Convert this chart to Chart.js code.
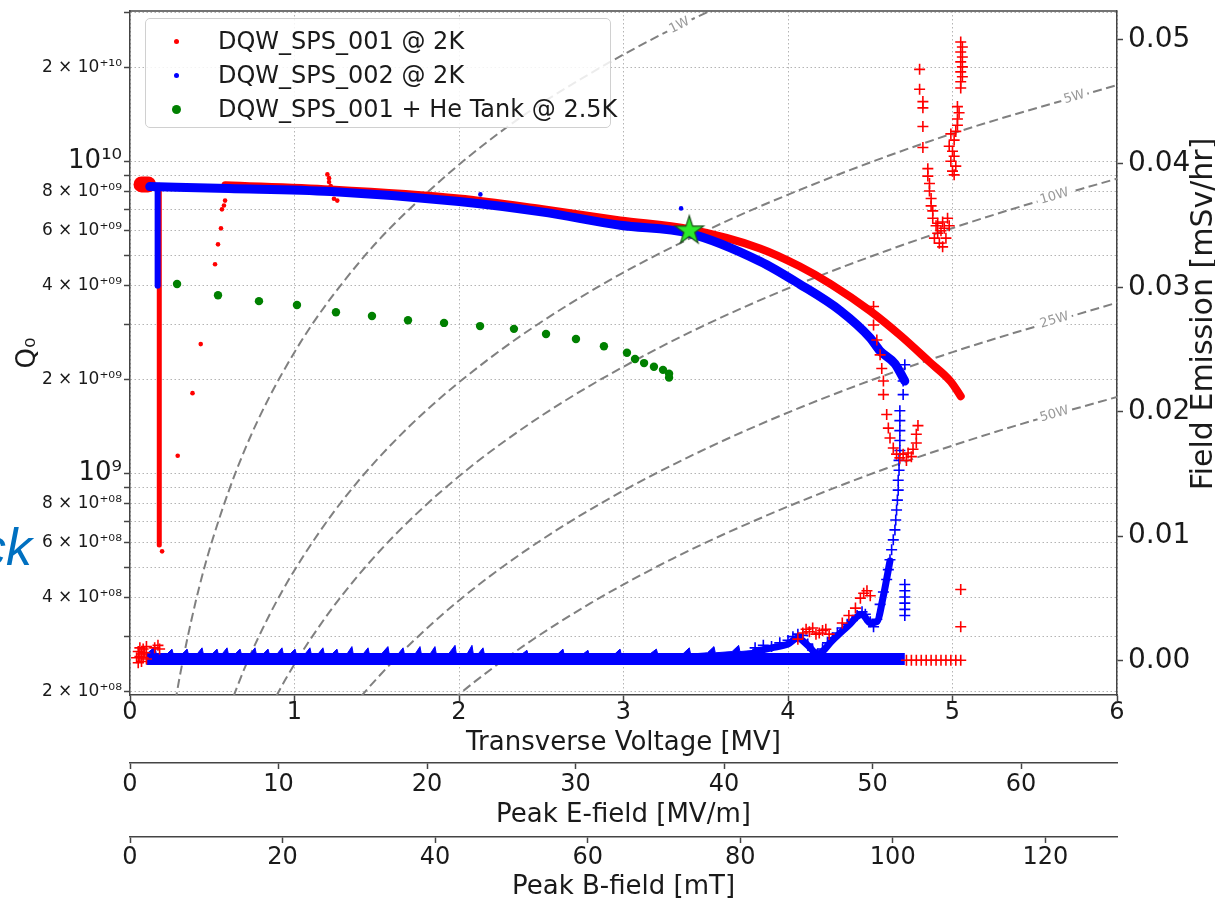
<!DOCTYPE html>
<html>
<head>
<meta charset="utf-8">
<script src="https://cdn.jsdelivr.net/npm/chart.js@4.4.1/dist/chart.umd.min.js"></script>
<style>
  html, body { margin: 0; padding: 0; background: #fff; }
  #wrap { position: relative; width: 1215px; height: 898px; overflow: hidden; font-family: "DejaVu Sans", sans-serif; }
  #chart { position: absolute; left: 0; top: 0; }
  .cut { position: absolute; left: -20px; top: 521px; font: italic 52px/52px "Liberation Sans", Arial, sans-serif; color: #0070c0; }
  .legend { position: absolute; left: 145px; top: 18px; width: 464px; height: 108px; border: 1px solid #d0d0d0;
            border-radius: 5px; background: rgba(255,255,255,0.85); }
  .legend .row { position: absolute; left: 0; width: 100%; height: 34px; }
  .legend .mk { position: absolute; border-radius: 50%; }
  .legend .txt { position: absolute; left: 72px; top: 0; line-height: 34px; font-size: 24px; color: #1a1a1a; white-space: nowrap; }
</style>
</head>
<body>
<div id="wrap">
  <canvas id="chart" width="1215" height="898"></canvas>
  <div class="cut">ck</div>
  <div class="legend" id="legend"></div>
</div>
<script>
/* ── Tick values ──────────────────────────────────────────────────── */
const xTicks  = [0, 1, 2, 3, 4, 5, 6];
const eTicks  = [0, 10, 20, 30, 40, 50, 60];
const bTicks  = [0, 20, 40, 60, 80, 100, 120];
const feTicks = [0, 0.01, 0.02, 0.03, 0.04, 0.05];
const qTicks  = [2e8, 3e8, 4e8, 5e8, 6e8, 7e8, 8e8, 9e8,
                 1e9, 2e9, 3e9, 4e9, 5e9, 6e9, 7e9, 8e9, 9e9,
                 1e10, 2e10, 3e10];

/* ── Legend ───────────────────────────────────────────────────────── */
const legendLabels = ["DQW_SPS_001 @ 2K", "DQW_SPS_002 @ 2K", "DQW_SPS_001 + He Tank @ 2.5K"];

/* ── Q0 vs transverse voltage [MV] ────────────────────────────────── */
const redBand = [[0.58, 8.40e9], [1.22, 8.14e9], [2.00, 7.62e9], [2.50, 7.05e9], [2.98, 6.48e9],
                 [3.40, 6.07e9], [3.83, 5.27e9], [4.07, 4.62e9], [4.26, 4.05e9], [4.50, 3.32e9],
                 [4.68, 2.78e9], [4.86, 2.28e9], [4.99, 1.97e9], [5.05, 1.77e9]];
const redBlob = [[0.07, 8.45e9], [0.11, 8.45e9]];
const redDrop = [[0.178, 8.40e9], [0.178, 5.90e8]];
const redDots = [[0.195, 5.63e8], [0.29, 1.14e9], [0.38, 1.81e9], [0.43, 2.60e9], [0.517, 4.69e9],
                 [0.535, 5.43e9], [0.553, 6.11e9], [0.559, 7.03e9], [0.571, 7.23e9], [0.578, 7.50e9],
                 [1.20, 9.10e9], [1.21, 8.85e9], [1.21, 8.60e9], [1.22, 8.35e9], [1.24, 7.60e9], [1.26, 7.50e9]];

const blueBand = [[0.12, 8.32e9], [0.60, 8.20e9], [1.22, 8.02e9], [2.00, 7.45e9], [2.50, 6.90e9],
                  [2.98, 6.25e9], [3.40, 5.89e9], [3.83, 4.79e9], [4.07, 4.05e9], [4.32, 3.32e9],
                  [4.50, 2.72e9], [4.56, 2.47e9], [4.65, 2.25e9], [4.71, 1.98e9]];
const blueDrop = [[0.168, 8.30e9], [0.168, 4.00e9]];
const blueDots = [[2.13, 7.85e9], [3.35, 7.08e9]];

const greenDots = [[0.286, 4.05e9], [0.535, 3.73e9], [0.784, 3.57e9], [1.015, 3.47e9], [1.252, 3.29e9],
                   [1.471, 3.20e9], [1.690, 3.10e9], [1.909, 3.04e9], [2.128, 2.97e9], [2.334, 2.91e9],
                   [2.529, 2.80e9], [2.711, 2.70e9], [2.881, 2.56e9], [3.021, 2.44e9], [3.070, 2.33e9],
                   [3.125, 2.26e9], [3.185, 2.20e9], [3.240, 2.15e9], [3.277, 2.09e9], [3.277, 2.03e9]];
const starPoint = [[3.40, 6.07e9]];

/* ── Constant power curves (Q0) ───────────────────────────────────── */
const curve1W  = [[0.25, 1.53e8], [0.30, 2.20e8], [0.40, 3.90e8], [0.50, 6.10e8], [0.70, 1.20e9], [1.00, 2.45e9],
                  [1.40, 4.80e9], [1.80, 7.90e9], [2.30, 1.30e10], [2.80, 1.92e10], [3.30, 2.67e10], [3.70, 3.35e10]];
const curve5W  = [[0.60, 1.76e8], [0.70, 2.40e8], [0.85, 3.54e8], [1.00, 4.90e8], [1.30, 8.30e8], [1.70, 1.42e9],
                  [2.20, 2.37e9], [2.80, 3.84e9], [3.50, 6.00e9], [4.20, 8.64e9], [5.00, 1.23e10], [6.00, 1.76e10]];
const curve10W = [[0.85, 1.77e8], [0.95, 2.21e8], [1.10, 2.96e8], [1.30, 4.14e8], [1.60, 6.27e8], [2.00, 9.80e8],
                  [2.50, 1.53e9], [3.10, 2.35e9], [3.80, 3.54e9], [4.60, 5.18e9], [5.30, 6.88e9], [6.00, 8.82e9]];
const curve25W = [[1.35, 1.79e8], [1.50, 2.20e8], [1.70, 2.83e8], [2.00, 3.92e8], [2.40, 5.64e8], [2.90, 8.24e8],
                  [3.50, 1.20e9], [4.20, 1.73e9], [5.00, 2.45e9], [6.00, 3.53e9]];
const curve50W = [[1.90, 1.77e8], [2.10, 2.16e8], [2.40, 2.82e8], [2.80, 3.84e8], [3.30, 5.34e8], [3.90, 7.45e8],
                  [4.60, 1.04e9], [5.30, 1.38e9], [6.00, 1.76e9]];
const curveNames = ["1W", "5W", "10W", "25W", "50W"];
const curveLabelAt = [[3.34, 2.73e10], [5.74, 1.61e10], [5.62, 7.74e9], [5.62, 3.10e9], [5.62, 1.55e9]];

/* ── Field emission [mSv/hr] vs transverse voltage ────────────────── */
const blueBase = [[0.10, 0.0001], [4.71, 0.0001]];
const blueSpikes = [
  [0.10, 0.0005], [0.152, 0.0011], [0.160, 0.0005], [0.225, 0.0005], [0.255, 0.0009], [0.263, 0.0005],
  [0.317, 0.0005], [0.347, 0.0009], [0.355, 0.0005], [0.408, 0.0005], [0.438, 0.0010], [0.446, 0.0005],
  [0.499, 0.0005], [0.529, 0.0009], [0.537, 0.0005], [0.560, 0.0005], [0.590, 0.0010], [0.598, 0.0005],
  [0.639, 0.0005], [0.669, 0.0009], [0.677, 0.0005], [0.730, 0.0005], [0.760, 0.0010], [0.768, 0.0005],
  [0.809, 0.0005], [0.839, 0.0009], [0.847, 0.0005], [0.894, 0.0005], [0.924, 0.0010], [0.932, 0.0005],
  [0.973, 0.0005], [1.003, 0.0009], [1.011, 0.0005], [1.064, 0.0005], [1.094, 0.0010], [1.102, 0.0005],
  [1.143, 0.0005], [1.173, 0.0010], [1.181, 0.0005], [1.228, 0.0005], [1.258, 0.0009], [1.266, 0.0005],
  [1.319, 0.0005], [1.349, 0.0011], [1.357, 0.0005], [1.417, 0.0005], [1.447, 0.0010], [1.455, 0.0005],
  [1.528, 0.0005], [1.568, 0.0011], [1.576, 0.0005], [1.630, 0.0005], [1.660, 0.0010], [1.668, 0.0005],
  [1.733, 0.0005], [1.763, 0.0011], [1.771, 0.0005], [1.824, 0.0005], [1.854, 0.0011], [1.862, 0.0005],
  [1.936, 0.0005], [1.976, 0.0012], [1.984, 0.0005], [2.049, 0.0005], [2.079, 0.0012], [2.087, 0.0005],
  [2.116, 0.0005], [2.146, 0.0010], [2.154, 0.0005], [2.373, 0.0004], [2.413, 0.0008], [2.421, 0.0004],
  [2.592, 0.0004], [2.632, 0.0009], [2.640, 0.0004], [2.744, 0.0004], [2.784, 0.0008], [2.792, 0.0004],
  [2.939, 0.0004], [2.979, 0.0009], [2.987, 0.0004], [3.160, 0.0005], [3.200, 0.0009], [3.208, 0.0005],
  [3.360, 0.0005], [3.400, 0.0010], [3.408, 0.0005], [3.510, 0.0006], [3.550, 0.0011], [3.558, 0.0006],
  [3.660, 0.0007], [3.700, 0.0012], [3.708, 0.0007], [3.800, 0.0008]];
const blueRise = [[3.80, 0.0007], [3.90, 0.0010], [4.00, 0.0013], [4.06, 0.0018], [4.12, 0.0012], [4.18, 0.0005],
                  [4.27, 0.0016], [4.36, 0.0027], [4.45, 0.0037], [4.50, 0.0030], [4.54, 0.0031], [4.58, 0.0052],
                  [4.62, 0.0080]];
const blueFE = [[3.80, 0.0010], [3.85, 0.0012], [3.90, 0.0011], [3.95, 0.0014], [4.00, 0.0016], [4.03, 0.0019],
                [4.06, 0.0021], [4.09, 0.0020], [4.12, 0.0013], [4.15, 0.0008], [4.18, 0.0005], [4.21, 0.0009],
                [4.24, 0.0014], [4.27, 0.0018], [4.30, 0.0022], [4.33, 0.0026], [4.36, 0.0029], [4.39, 0.0032],
                [4.42, 0.0036], [4.45, 0.0039], [4.47, 0.0037], [4.50, 0.0031], [4.52, 0.0027], [4.54, 0.0033],
                [4.56, 0.0045], [4.58, 0.0055], [4.60, 0.0065], [4.61, 0.0073], [4.62, 0.0081], [4.63, 0.0089],
                [4.64, 0.0097], [4.65, 0.0105], [4.655, 0.0113], [4.66, 0.0121], [4.665, 0.0129], [4.67, 0.0137],
                [4.67, 0.0145], [4.675, 0.0153], [4.675, 0.0161], [4.68, 0.0169], [4.68, 0.0177], [4.68, 0.0185],
                [4.68, 0.0193], [4.68, 0.0201], [4.70, 0.0214], [4.70, 0.0225], [4.71, 0.0238],
                [4.71, 0.0061], [4.71, 0.0056], [4.71, 0.0051], [4.71, 0.0046], [4.71, 0.0041], [4.71, 0.0036]];
const redFE = [[0.04, 0.0002], [0.05, 0.0007], [0.05, -0.0002], [0.06, 0.0010], [0.06, 0.0003], [0.07, 0.0005],
               [0.07, -0.0001], [0.08, 0.0009], [0.08, 0.0002], [0.09, 0.0006], [0.10, 0.0011], [0.10, 0.0001],
               [0.15, 0.0010], [0.17, 0.0012], [0.18, 0.0009],
               [4.06, 0.0017], [4.09, 0.0022], [4.11, 0.0025], [4.13, 0.0023], [4.15, 0.0026], [4.17, 0.0021],
               [4.19, 0.0022], [4.21, 0.0024], [4.23, 0.0025], [4.25, 0.0021],
               [4.33, 0.0030], [4.37, 0.0036], [4.41, 0.0042], [4.44, 0.0050], [4.46, 0.0054], [4.48, 0.0056], [4.50, 0.0052],
               [4.52, 0.0285], [4.52, 0.0270], [4.54, 0.0258], [4.56, 0.0246], [4.57, 0.0235], [4.58, 0.0225],
               [4.58, 0.0214], [4.60, 0.0198], [4.61, 0.0187], [4.62, 0.0179], [4.64, 0.0171], [4.66, 0.0166],
               [4.68, 0.0163], [4.70, 0.0166], [4.72, 0.0161], [4.73, 0.0167], [4.75, 0.0164], [4.76, 0.0170],
               [4.78, 0.0175], [4.78, 0.0182], [4.79, 0.0189],
               [4.80, 0.0476], [4.80, 0.0460], [4.82, 0.0450], [4.82, 0.0445], [4.82, 0.0430], [4.82, 0.0413],
               [4.85, 0.0396], [4.85, 0.0390], [4.86, 0.0384], [4.86, 0.0378], [4.87, 0.0372], [4.87, 0.0366],
               [4.88, 0.0362], [4.88, 0.0356], [4.90, 0.0350], [4.91, 0.0344], [4.89, 0.0340], [4.92, 0.0336],
               [4.93, 0.0346], [4.94, 0.0353], [4.95, 0.0348], [4.96, 0.0340], [4.94, 0.0333], [4.97, 0.0356],
               [4.98, 0.0350], [4.91, 0.0352],
               [5.05, 0.0498], [5.06, 0.0494], [5.05, 0.0490], [5.06, 0.0486], [5.05, 0.0482], [5.06, 0.0478],
               [5.05, 0.0474], [5.06, 0.0470], [5.05, 0.0466], [5.05, 0.0461],
               [5.03, 0.0446], [5.04, 0.0441], [5.03, 0.0436], [5.03, 0.0431], [5.02, 0.0426],
               [4.99, 0.0424], [5.01, 0.0419], [4.98, 0.0414], [5.00, 0.0410], [5.01, 0.0406], [4.99, 0.0402],
               [5.02, 0.0398], [5.00, 0.0394], [5.01, 0.0391],
               [4.72, 0], [4.75, 0], [4.78, 0], [4.81, 0], [4.84, 0], [4.87, 0], [4.90, 0], [4.93, 0],
               [4.96, 0], [4.99, 0], [5.02, 0], [5.05, 0], [5.05, 0.0057], [5.05, 0.0027]];


/* ── Helpers ──────────────────────────────────────────────────────── */
const RED = "#ff0000", BLUE = "#0000ff", GREEN = "#008000", INK = "#1a1a1a", SPINE = "#444";
const xy = (pts) => pts.map(([x, y]) => ({ x, y }));
const SUP = { "0": "⁰", "1": "¹", "2": "²", "3": "³", "4": "⁴", "5": "⁵", "6": "⁶", "7": "⁷", "8": "⁸", "9": "⁹" };
const sup = (s) => String(s).split("").map((c) => SUP[c] || c).join("");

function qExp(v) { return Math.floor(Math.log10(v) + 1e-9); }
function qMant(v) { return Math.round(v / Math.pow(10, qExp(v))); }
function fmtQ(v) {
  const e = qExp(v), m = qMant(v);
  if (m === 1) return "10" + sup(e);
  if (m % 2 === 0) return m + " × 10⁺" + sup(String(e).padStart(2, "0"));
  return "";
}

function band(pts, color, width, order, axis) {
  return { data: xy(pts), yAxisID: axis || "y", showLine: true, borderColor: color, borderWidth: width,
           pointRadius: 0, cubicInterpolationMode: "monotone", borderCapStyle: "round",
           borderJoinStyle: "round", order };
}
function dots(pts, color, r, order, style, axis) {
  return { data: xy(pts), yAxisID: axis || "y", showLine: false, pointStyle: style || "circle",
           pointRadius: r, backgroundColor: color, borderColor: color,
           pointBorderWidth: style === "cross" ? 1.6 : 0, order };
}
function powerCurve(pts) {
  return { data: xy(pts), showLine: true, borderColor: "#808080", borderWidth: 2, borderDash: [9, 4.5],
           pointRadius: 0, cubicInterpolationMode: "monotone", clip: 0, order: 30 };
}

function starImage(r) {
  const c = document.createElement("canvas");
  const s = Math.ceil(r * 2 + 4);
  c.width = c.height = s;
  const g = c.getContext("2d");
  g.beginPath();
  for (let i = 0; i < 10; i++) {
    const rad = i % 2 ? r * 0.382 : r;
    const a = -Math.PI / 2 + (i * Math.PI) / 5;
    g.lineTo(s / 2 + rad * Math.cos(a), s / 2 + 1.5 + rad * Math.sin(a));
  }
  g.closePath();
  g.fillStyle = "#2bea2b";
  g.fill();
  g.strokeStyle = "#1d4d1d";
  g.lineWidth = 1.2;
  g.stroke();
  return c;
}

/* ── Legend (HTML overlay) ────────────────────────────────────────── */
const legendColors = [RED, BLUE, GREEN];
const legendSizes = [2.5, 2.5, 4.5];
legendLabels.forEach((label, i) => {
  const row = document.createElement("div");
  row.className = "row";
  row.style.top = (5 + i * 34) + "px";
  const r = legendSizes[i];
  row.innerHTML = `<span class="mk" style="left:${30 - r}px;top:${17 - r}px;width:${2 * r}px;height:${2 * r}px;background:${legendColors[i]}"></span><span class="txt">${label}</span>`;
  document.getElementById("legend").appendChild(row);
});

/* ── Extra drawing: top spine, curve labels, right axis title ─────── */
const curveLabelAngle = [26, 16, 16.5, 16.5, 16.5];
const extras = {
  id: "extras",
  afterDatasetsDraw(chart) {
    const { ctx, chartArea: a, scales } = chart;
    ctx.save();
    ctx.beginPath();
    ctx.rect(a.left, a.top, a.width, a.height);
    ctx.clip();
    ctx.font = "13px 'DejaVu Sans'";
    ctx.textAlign = "center";
    ctx.textBaseline = "middle";
    curveNames.forEach((name, i) => {
      const px = scales.x.getPixelForValue(curveLabelAt[i][0]);
      const py = scales.y.getPixelForValue(curveLabelAt[i][1]);
      ctx.save();
      ctx.translate(px, py);
      ctx.rotate((-curveLabelAngle[i] * Math.PI) / 180);
      const w = ctx.measureText(name).width + 6;
      ctx.fillStyle = "#fff";
      ctx.fillRect(-w / 2, -7, w, 14);
      ctx.fillStyle = "#999";
      ctx.fillText(name, 0, 0);
      ctx.restore();
    });
    ctx.restore();

    ctx.save();
    ctx.strokeStyle = SPINE;
    ctx.lineWidth = 1.5;
    ctx.beginPath();
    ctx.moveTo(a.left, a.top);
    ctx.lineTo(a.right, a.top);
    ctx.stroke();
    ctx.restore();
  },
  afterDraw(chart) {
    const { ctx } = chart;
    ctx.save();
    ctx.translate(1204, 314);
    ctx.rotate(-Math.PI / 2);
    ctx.font = "30px 'DejaVu Sans'";
    ctx.fillStyle = INK;
    ctx.textAlign = "center";
    ctx.textBaseline = "middle";
    ctx.fillText("Field Emission [mSv/hr]", 0, 0);
    ctx.restore();
  },
};

/* ── Scales ───────────────────────────────────────────────────────── */
const gridDots = { color: "#b4b4b4", lineWidth: 1, tickLength: 6, tickColor: SPINE, tickWidth: 1.5 };
const fixTicks = (list) => (s) => { s.ticks = list.map((v) => ({ value: v })); };
const fixHeight = (h) => (s) => { s.height = h; s.paddingLeft = 0; s.paddingRight = 0; };
const fixWidth = (w) => (s) => { s.width = w; s.paddingTop = 0; s.paddingBottom = 0; };

function bottomAxis(min, max, ticks, title, h, weight, padTick, padTitle, grid) {
  return {
    type: "linear", position: "bottom", min, max, weight,
    afterBuildTicks: fixTicks(ticks), afterFit: fixHeight(h),
    grid: grid ? gridDots : { drawOnChartArea: false, tickLength: 6, tickColor: SPINE, tickWidth: 1.5 },
    border: { color: SPINE, width: 1.5, dash: grid ? [1.5, 2.5] : [] },
    ticks: { color: INK, padding: padTick, maxRotation: 0, font: { size: 24, lineHeight: 1 }, callback: (v) => String(v) },
    title: { display: true, text: title, color: INK, font: { size: 26, lineHeight: 1 }, padding: { top: 0, bottom: padTitle } },
  };
}

new Chart(document.getElementById("chart"), {
  type: "scatter",
  data: {
    datasets: [
      powerCurve(curve1W), powerCurve(curve5W), powerCurve(curve10W), powerCurve(curve25W), powerCurve(curve50W),
      band(redBand, RED, 8, 13),
      band(redBlob, RED, 16, 12),
      { ...band(redDrop, RED, 5, 11), cubicInterpolationMode: "default", borderCapStyle: "butt" },
      dots(redDots, RED, 2.3, 10),
      band(blueBand, BLUE, 9, 9),
      { ...band(blueDrop, BLUE, 6, 8), cubicInterpolationMode: "default", borderCapStyle: "butt" },
      dots(blueDots, BLUE, 2.3, 7),
      { ...band(blueBase, BLUE, 12, 6, "fe"), borderCapStyle: "butt" },
      { ...band(blueSpikes, BLUE, 1, 5, "fe"), cubicInterpolationMode: "default", fill: "origin", backgroundColor: BLUE },
      band(blueRise, BLUE, 7, 5, "fe"),
      dots(blueFE, BLUE, 5.5, 4, "cross", "fe"),
      dots(redFE, RED, 5.5, 3, "cross", "fe"),
      dots(greenDots, GREEN, 4.2, 2),
      { data: xy(starPoint), showLine: false, pointStyle: starImage(15), pointRadius: 10, order: 1 },
    ],
  },
  options: {
    responsive: false,
    animation: false,
    devicePixelRatio: 1,
    events: [],
    layout: { padding: { top: 9, left: 0, right: 0, bottom: 0 } },
    font: { family: "'DejaVu Sans', sans-serif" },
    plugins: { legend: { display: false }, tooltip: { enabled: false } },
    scales: {
      x: bottomAxis(0, 6, xTicks, "Transverse Voltage [MV]", 68, 0, 0, 7, true),
      xE: bottomAxis(0, 66.46, eTicks, "Peak E-field [MV/m]", 74, 1, 4, 9, false),
      xB: bottomAxis(0, 129.4, bTicks, "Peak B-field [mT]", 61, 2, 3, -2, false),
      y: {
        type: "logarithmic", position: "left", min: 1.95e8, max: 3.04e10,
        afterBuildTicks: fixTicks(qTicks), afterFit: fixWidth(130),
        grid: gridDots,
        border: { color: SPINE, width: 1.5, dash: [1.5, 2.5] },
        ticks: {
          color: INK, padding: 2,
          font: (c) => ({ size: c.tick && qMant(c.tick.value) === 1 ? 26 : 17 }),
          callback: (v) => fmtQ(v),
        },
        title: { display: true, text: "Q₀", color: INK, font: { size: 26 }, padding: { top: 13 } },
      },
      fe: {
        type: "linear", position: "right", min: -0.0028, max: 0.0523,
        afterBuildTicks: fixTicks(feTicks), afterFit: fixWidth(98),
        grid: { drawOnChartArea: false, tickLength: 6, tickColor: SPINE, tickWidth: 1.5 },
        border: { color: SPINE, width: 1.5 },
        ticks: { color: INK, padding: 5, font: { size: 28 }, callback: (v) => v.toFixed(2) },
      },
    },
  },
  plugins: [extras],
});
</script>
</body>
</html>
